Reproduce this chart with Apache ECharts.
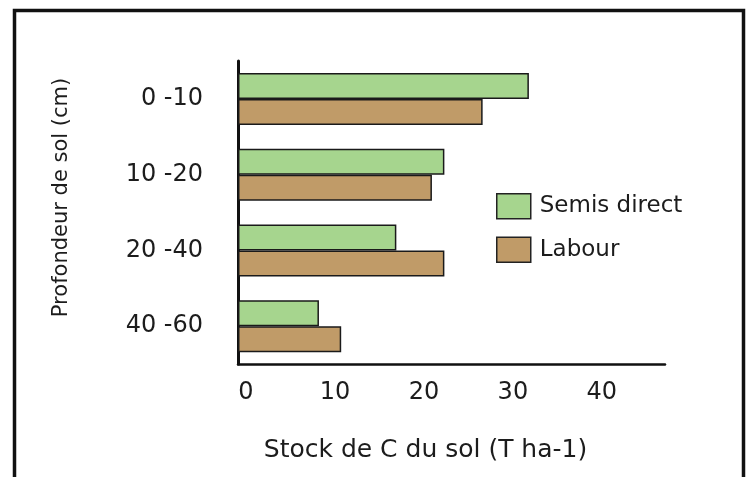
<!DOCTYPE html>
<html>
<head>
<meta charset="utf-8">
<script src="https://cdn.jsdelivr.net/npm/echarts@6/dist/echarts.min.js"></script>
<style>
html,body{margin:0;padding:0;background:#fff;}
#chart{width:749px;height:477px;}
</style>
</head>
<body>
<div id="chart"></div>
<script>
var categories = ['0 -10', '10 -20', '20 -40', '40 -60'];
var semisDirect = [32.7, 23.2, 17.8, 9.1];
var labour = [27.5, 21.8, 23.2, 11.6];
var seriesNames = ['Semis direct', 'Labour'];
var xTickValues = [0, 10, 20, 30, 40];

var FONT = 'DejaVu Sans';
var TXT = '#1c1c1c';
var chart = echarts.init(document.getElementById('chart'), null, {renderer: 'canvas'});
chart.setOption({
  backgroundColor: '#ffffff',
  animation: false,
  graphic: [{
    type: 'rect', silent: true,
    shape: {x: 14.5, y: 10.5, width: 729, height: 490},
    style: {fill: 'none', stroke: '#111', lineWidth: 3.5}
  }],
  legend: {
    orient: 'vertical',
    left: 491, top: 188,
    itemWidth: 34, itemHeight: 25, itemGap: 17,
    icon: 'rect',
    itemStyle: {borderColor: '#222', borderWidth: 1.5},
    textStyle: {fontFamily: FONT, fontSize: 23, color: TXT, padding: [0, 0, 0, 4]},
    data: seriesNames
  },
  grid: {left: 238, right: 84, top: 61, bottom: 113, containLabel: false, outerBoundsMode: 'none'},
  xAxis: {
    type: 'value', min: 0, max: 48, interval: 10,
    name: 'Stock de C du sol (T ha-1)',
    nameLocation: 'middle', nameGap: 74,
    nameTextStyle: {fontFamily: FONT, fontSize: 25, color: TXT, padding: [0, 52, 0, 0]},
    axisLine: {show: true, lineStyle: {color: '#111', width: 2.5}},
    axisTick: {show: false},
    splitLine: {show: false},
    axisLabel: {
      fontFamily: FONT, fontSize: 24, color: TXT, margin: 17,
      padding: [0, 0, 0, 16], showMaxLabel: false,
      formatter: function (v) { return xTickValues.indexOf(v) >= 0 ? String(v) : ''; }
    }
  },
  yAxis: {
    type: 'category', inverse: true, data: categories,
    name: 'Profondeur de sol (cm)',
    nameLocation: 'middle', nameGap: 166, nameRotate: 90,
    nameTextStyle: {fontFamily: FONT, fontSize: 21, color: TXT, padding: [0, 0, 0, 30]},
    axisLine: {show: true, lineStyle: {color: '#111', width: 3}},
    axisTick: {show: false},
    axisLabel: {fontFamily: FONT, fontSize: 24, color: TXT, margin: 35}
  },
  series: [{
    name: seriesNames[0], type: 'bar', data: semisDirect,
    barWidth: 26, barGap: '0%',
    itemStyle: {color: '#a6d58e', borderColor: '#1a1a1a', borderWidth: 1.5}
  }, {
    name: seriesNames[1], type: 'bar', data: labour,
    barWidth: 26, barGap: '0%',
    itemStyle: {color: '#c09b68', borderColor: '#1a1a1a', borderWidth: 1.5}
  }]
});
</script>
</body>
</html>
